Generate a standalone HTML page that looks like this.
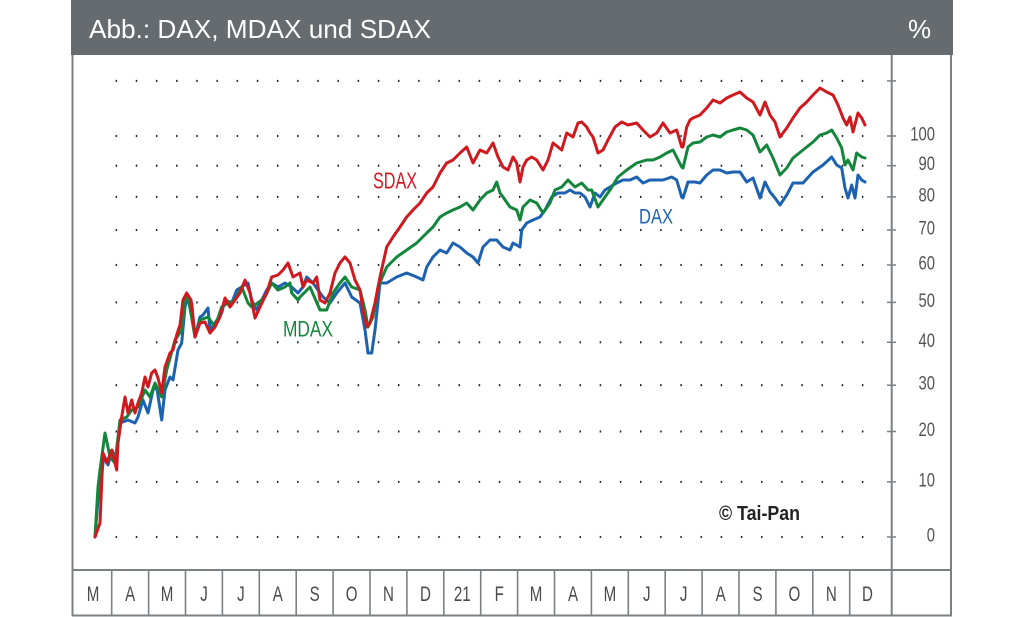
<!DOCTYPE html>
<html>
<head>
<meta charset="utf-8">
<style>
html,body{margin:0;padding:0;background:#fff;}
body{width:1024px;height:617px;overflow:hidden;}
svg{display:block;font-family:"Liberation Sans",sans-serif;}
</style>
</head>
<body>
<svg width="1024" height="617" viewBox="0 0 1024 617" xmlns="http://www.w3.org/2000/svg">
  <!-- header -->
  <rect x="71" y="0" width="882" height="55" fill="#656b6e"/>
  <text x="89" y="38" font-size="26" fill="#ffffff" textLength="342" lengthAdjust="spacingAndGlyphs">Abb.: DAX, MDAX und SDAX</text>
  <text x="908" y="38" font-size="26" fill="#ffffff">%</text>

  <!-- frame -->
  <g stroke="#7b8084" stroke-width="2" fill="none">
    <line x1="72.5" y1="55" x2="72.5" y2="616"/>
    <line x1="951" y1="55" x2="951" y2="616"/>
    <line x1="72" y1="615.5" x2="952" y2="615.5"/>
    <line x1="72" y1="570" x2="952" y2="570"/>
    <line x1="891.7" y1="55" x2="891.7" y2="616"/>
  </g>

  <!-- month separators -->
  <g stroke="#7b8084" stroke-width="1.6">
    <line x1="111.7" y1="570" x2="111.7" y2="615"/>
    <line x1="148.6" y1="570" x2="148.6" y2="615"/>
    <line x1="185.5" y1="570" x2="185.5" y2="615"/>
    <line x1="222.4" y1="570" x2="222.4" y2="615"/>
    <line x1="259.3" y1="570" x2="259.3" y2="615"/>
    <line x1="296.2" y1="570" x2="296.2" y2="615"/>
    <line x1="333.1" y1="570" x2="333.1" y2="615"/>
    <line x1="370.0" y1="570" x2="370.0" y2="615"/>
    <line x1="406.9" y1="570" x2="406.9" y2="615"/>
    <line x1="443.8" y1="570" x2="443.8" y2="615"/>
    <line x1="480.7" y1="570" x2="480.7" y2="615"/>
    <line x1="517.6" y1="570" x2="517.6" y2="615"/>
    <line x1="554.5" y1="570" x2="554.5" y2="615"/>
    <line x1="591.4" y1="570" x2="591.4" y2="615"/>
    <line x1="628.3" y1="570" x2="628.3" y2="615"/>
    <line x1="665.2" y1="570" x2="665.2" y2="615"/>
    <line x1="702.1" y1="570" x2="702.1" y2="615"/>
    <line x1="739.0" y1="570" x2="739.0" y2="615"/>
    <line x1="775.9" y1="570" x2="775.9" y2="615"/>
    <line x1="812.8" y1="570" x2="812.8" y2="615"/>
    <line x1="849.7" y1="570" x2="849.7" y2="615"/>
  </g>

  <!-- month labels -->
  <g font-size="21" fill="#4a4a4a" text-anchor="middle">
    <text transform="translate(93,601) scale(0.72,1)">M</text>
    <text transform="translate(130.2,601) scale(0.72,1)">A</text>
    <text transform="translate(167.1,601) scale(0.72,1)">M</text>
    <text transform="translate(204,601) scale(0.72,1)">J</text>
    <text transform="translate(240.9,601) scale(0.72,1)">J</text>
    <text transform="translate(277.8,601) scale(0.72,1)">A</text>
    <text transform="translate(314.7,601) scale(0.72,1)">S</text>
    <text transform="translate(351.6,601) scale(0.72,1)">O</text>
    <text transform="translate(388.5,601) scale(0.72,1)">N</text>
    <text transform="translate(425.4,601) scale(0.72,1)">D</text>
    <text transform="translate(462.3,601) scale(0.72,1)">21</text>
    <text transform="translate(499.2,601) scale(0.72,1)">F</text>
    <text transform="translate(536.1,601) scale(0.72,1)">M</text>
    <text transform="translate(573,601) scale(0.72,1)">A</text>
    <text transform="translate(609.9,601) scale(0.72,1)">M</text>
    <text transform="translate(646.8,601) scale(0.72,1)">J</text>
    <text transform="translate(683.7,601) scale(0.72,1)">J</text>
    <text transform="translate(720.6,601) scale(0.72,1)">A</text>
    <text transform="translate(757.5,601) scale(0.72,1)">S</text>
    <text transform="translate(794.4,601) scale(0.72,1)">O</text>
    <text transform="translate(831.3,601) scale(0.72,1)">N</text>
    <text transform="translate(867.5,601) scale(0.72,1)">D</text>
  </g>

  <!-- dotted grid -->
  <defs>
    <pattern id="dots" x="115.6" y="0" width="20.17" height="617" patternUnits="userSpaceOnUse">
      <circle cx="0.5" cy="80.9" r="1.15" fill="#222"/>
      <circle cx="0.5" cy="136" r="1.15" fill="#222"/>
      <circle cx="0.5" cy="165.7" r="1.15" fill="#222"/>
      <circle cx="0.5" cy="196.9" r="1.15" fill="#222"/>
      <circle cx="0.5" cy="230" r="1.15" fill="#222"/>
      <circle cx="0.5" cy="265" r="1.15" fill="#222"/>
      <circle cx="0.5" cy="302.4" r="1.15" fill="#222"/>
      <circle cx="0.5" cy="342.3" r="1.15" fill="#222"/>
      <circle cx="0.5" cy="385.2" r="1.15" fill="#222"/>
      <circle cx="0.5" cy="431.5" r="1.15" fill="#222"/>
      <circle cx="0.5" cy="481.9" r="1.15" fill="#222"/>
      <circle cx="0.5" cy="537" r="1.15" fill="#222"/>
    </pattern>
  </defs>
  <rect x="114" y="70" width="750" height="480" fill="url(#dots)"/>

  <!-- right axis ticks -->
  <g stroke="#7b8084" stroke-width="1.5">
    <line x1="887" y1="80.9" x2="896" y2="80.9"/>
    <line x1="887" y1="136" x2="896" y2="136"/>
    <line x1="887" y1="165.7" x2="896" y2="165.7"/>
    <line x1="887" y1="196.9" x2="896" y2="196.9"/>
    <line x1="887" y1="230" x2="896" y2="230"/>
    <line x1="887" y1="265" x2="896" y2="265"/>
    <line x1="887" y1="302.4" x2="896" y2="302.4"/>
    <line x1="887" y1="342.3" x2="896" y2="342.3"/>
    <line x1="887" y1="385.2" x2="896" y2="385.2"/>
    <line x1="887" y1="431.5" x2="896" y2="431.5"/>
    <line x1="887" y1="481.9" x2="896" y2="481.9"/>
    <line x1="887" y1="537" x2="896" y2="537"/>
  </g>
  <g font-size="19" fill="#555" text-anchor="end">
    <text transform="translate(935,140.5) scale(0.78,1)">100</text>
    <text transform="translate(935,170.2) scale(0.78,1)">90</text>
    <text transform="translate(935,201.4) scale(0.78,1)">80</text>
    <text transform="translate(935,234.5) scale(0.78,1)">70</text>
    <text transform="translate(935,269.5) scale(0.78,1)">60</text>
    <text transform="translate(935,306.9) scale(0.78,1)">50</text>
    <text transform="translate(935,346.8) scale(0.78,1)">40</text>
    <text transform="translate(935,389.7) scale(0.78,1)">30</text>
    <text transform="translate(935,436) scale(0.78,1)">20</text>
    <text transform="translate(935,486.4) scale(0.78,1)">10</text>
    <text transform="translate(935,541.5) scale(0.78,1)">0</text>
  </g>

  <!-- series -->
  <g fill="none" stroke-width="3" stroke-linejoin="round" stroke-linecap="round">
    <polyline stroke="#1d62b0" points="95,537 98,500 101,480 104,455 108,465 112,450 116,460 120,423 128,420 135,423 138,417 143,400 148,413 153,390 156.7,387 161.7,420 165,390 170,377 173,380 178,350 181.7,343 185,307 188,297 191.7,303 195,337 200,317 203,315 208,308 210,330 215,323 221.7,313 225,300 231.7,303 236.7,290 241.7,287 248,283 251.7,300 256.7,310 261.7,300 266.7,290 271.7,283 278,287 285,283 291.7,287 298,293 303,287 306.7,277 313,283 323,297 330,303 336.7,293 345,283 351.7,297 360,303 365,330 368,353 371.7,353 375,330 380,283 386.7,283 396.7,277 406.7,273 416.7,277 423,280 426.7,267 433,257 440,250 446.7,253 453,243 460,247 466.7,253 473,257 478,263 483,247 490,240 496.7,240 503,247 510,250 513,243 520,247 521.7,230 526.7,223 533,220 540,217 545,210 551.7,197 558,193 565,193 570,190 575,193 580,193 585,197 590,207 595,193 600,197 605,190 610,187 616.7,183 623,180 630,180 636.7,177 643,183 650,180 656.7,180 663,180 671.7,177 676.7,180 681.7,197 683,198 688,182 695,182 700,183 706.7,175 713,170 720,170 726.7,173 733,172 740,172 746.7,182 753,178 760,198 765,182 770,192 775,198 780,205 786.7,195 793,183 803,183 813,172 823,165 831.7,157 836.7,165 841.7,168 845,188 848,198 851.7,185 855,198 858,175 861.7,180 865,182"/>
    <polyline stroke="#13863c" points="95,537 98,487 100,470 105,433 110,457 115,463 120,420 126.7,417 131.7,410 138,407 145,390 150,397 155,383 161.7,397 166.7,370 175,340 181.7,330 185,300 188,297 195,337 200,320 208,317 215,327 221.7,307 228,303 235,300 241.7,287 248,303 251.7,307 258,303 265,297 271.7,283 278,290 285,287 290,283 291.7,293 298,300 300,297 310,287 320,310 326.7,310 333,293 340,283 345,277 351.7,287 360,290 365,310 368,327 373,317 378,287 386.7,267 396.7,257 406.7,250 416.7,243 426.7,233 433,227 440,217 446.7,213 453,210 460,207 466.7,203 473,210 480,200 486.7,193 493,190 496.7,182 500,193 503,197 510,207 516.7,210 520,220 523,207 530,200 536.7,203 543,213 550,203 555,190 561.7,187 568,180 575,187 581.7,183 588,190 591.7,190 598,207 605,197 610,190 618,177 626.7,170 636.7,163 646.7,160 653,160 660,157 666.7,153 673,150 681.7,167 683,168 688,147 693,143 700,142 706.7,137 713,135 720,137 726.7,132 733,130 740,128 746.7,130 753,135 760,152 766.7,145 773,158 780,175 786.7,168 793,158 803,150 813,142 820,135 826.7,133 831.7,130 836.7,138 841.7,148 845,165 848,160 853,170 856.7,153 861.7,157 865,158"/>
    <polyline stroke="#d0191f" points="95,537 100,523 103,453 106.7,463 111.7,450 116.7,470 118,443 121.7,417 125,397 128,413 131.7,400 135,413 138,403 141.7,393 145,377 148,387 151.7,373 155,370 158,378 161.7,393 165,367 170,353 173,350 176.7,335 180,325 183,300 186.7,293 191,300 195,337 200,323 205,322 210,333 215,327 220,317 225,298 230,307 235,300 240,293 245,280 250,293 255,318 260,307 266.7,293 271.7,277 278,275 283,270 288,263 293,277 300,273 303,287 306.7,280 313,283 316.7,277 320,300 325,303 330,293 335,273 340,263 345,257 350,263 355,280 360,290 363,310 366.7,327 370,323 375,303 380,277 386.7,247 393,237 400,227 406.7,217 413,210 420,203 426.7,193 433,187 440,173 446.7,163 453,160 460,153 466.7,147 473,163 480,150 486.7,153 493,143 498,157 503,167 508,170 513,157 516.7,163 520,182 523,167 526.7,160 531.7,157 536.7,160 543,170 548,160 553,143 558,147 561.7,150 566.7,133 573,137 578,123 581.7,122 586.7,127 590,133 593,137 598,153 603,150 608,140 615,127 621.7,122 628,125 636.7,123 643,130 650,137 656.7,133 663,123 670,133 676.7,130 681.7,147 683,147 686.7,127 690,120 693,118 700,115 706.7,108 713,100 720,103 726.7,98 733,95 740,92 746.7,98 753,102 760,115 765,102 770,115 775,122 780,137 786.7,128 793,118 800,108 806.7,102 813,95 820,88 826.7,92 833,95 838,105 843,118 846.7,125 850,117 853,132 858,113 861.7,118 865,125"/>
  </g>

  <!-- series labels -->
  <text x="373" y="188.3" font-size="23" fill="#d0191f" textLength="44" lengthAdjust="spacingAndGlyphs">SDAX</text>
  <text x="283" y="336.7" font-size="22" fill="#13863c" textLength="50" lengthAdjust="spacingAndGlyphs">MDAX</text>
  <text x="639" y="223.3" font-size="21" fill="#1d62b0" textLength="34" lengthAdjust="spacingAndGlyphs">DAX</text>

  <!-- copyright -->
  <text x="719" y="520" font-size="20" font-weight="bold" fill="#222" textLength="81" lengthAdjust="spacingAndGlyphs">© Tai-Pan</text>
</svg>
</body>
</html>
